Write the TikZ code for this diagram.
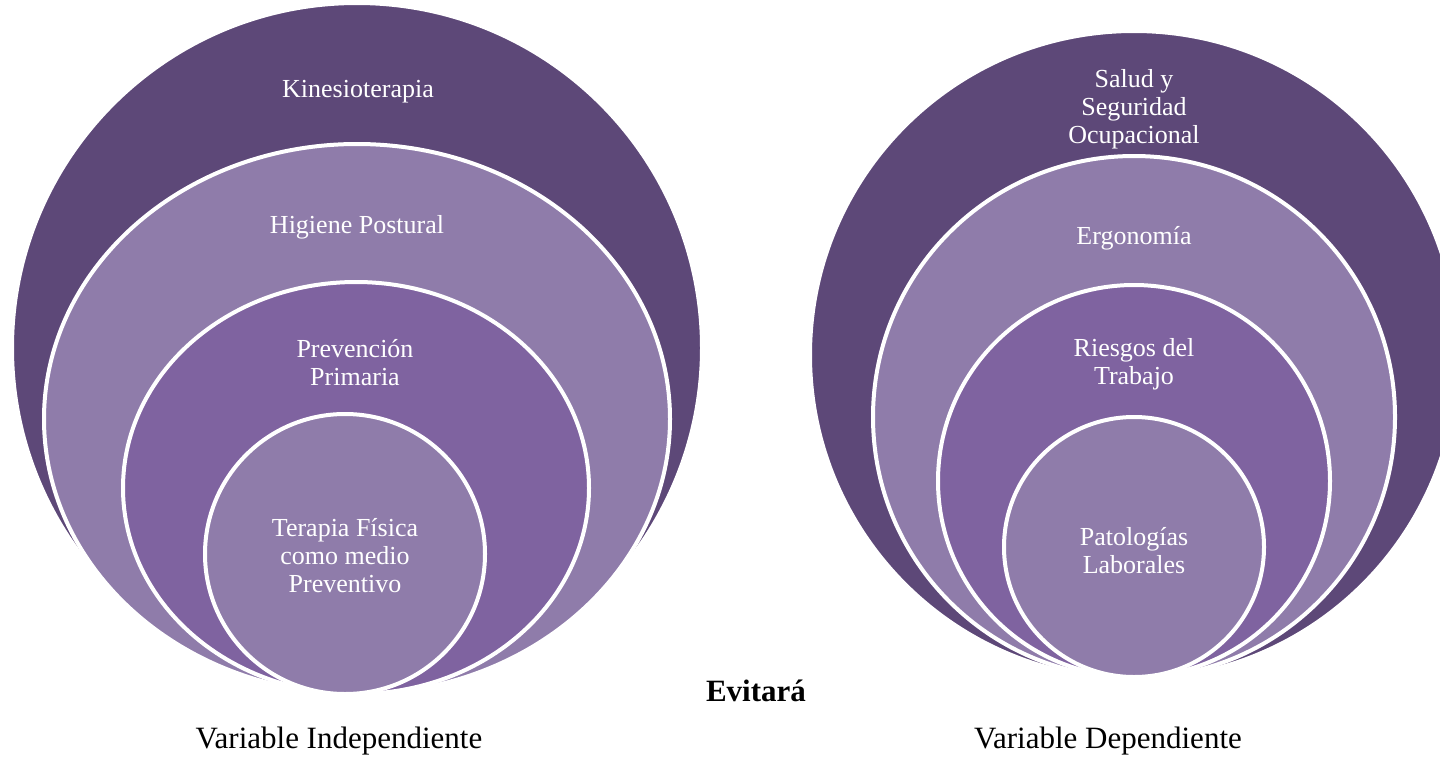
\documentclass[tikz,border=0pt]{standalone}
\usepackage{fontspec}
\setmainfont{Liberation Serif}
\usepackage{xcolor}
\usepackage{tikz}
\definecolor{darkpurple}{HTML}{5D4878}
\definecolor{lightpurple}{HTML}{8F7CAA}
\definecolor{midpurple}{HTML}{7F63A0}

\begin{document}
\begin{tikzpicture}[x=1pt,y=-1pt,
  ring/.style={draw=white,line width=4pt},
  txt/.style={text=white,align=center,inner sep=0pt,font=\fontsize{26}{28}\selectfont},
  capt/.style={inner sep=0pt,font=\fontsize{31}{34}\selectfont}]
  \useasboundingbox (0,0) rectangle (1440,760);
  \clip (0,0) rectangle (1440,760);

  %% Variable independiente
  \begin{scope}
    \filldraw[ring,fill=darkpurple]  (357,348) circle [radius=345];                  % outer
    \filldraw[ring,fill=lightpurple] (357,419) ellipse [x radius=313,y radius=275];  % 2nd
    \filldraw[ring,fill=midpurple]   (356,488) ellipse [x radius=233,y radius=206];  % 3rd
    \filldraw[ring,fill=lightpurple] (345,554) circle [radius=140];                  % inner
    % labels
    \node[txt] (kine)    at (358,92)  {Kinesioterapia};
    \node[txt] (higiene) at (357,227) {Higiene Postural};
    \node[txt] (prev)    at (355,363) {Prevención\\Primaria};
    \node[txt] (terapia) at (345,556) {Terapia Física\\como medio\\Preventivo};
  \end{scope}

  %% Variable dependiente
  \begin{scope}
    \filldraw[ring,fill=darkpurple]  (1134,355) circle [radius=324]; % outer
    \filldraw[ring,fill=lightpurple] (1134,417) circle [radius=261]; % 2nd
    \filldraw[ring,fill=midpurple]   (1134,481) circle [radius=196]; % 3rd
    \filldraw[ring,fill=lightpurple] (1134,547) circle [radius=130]; % inner
    % labels
    \node[txt] (salud)   at (1134,109) {Salud y\\Seguridad\\Ocupacional};
    \node[txt] (ergo)    at (1134,238) {Ergonomía};
    \node[txt] (riesgos) at (1134,364) {Riesgos del\\Trabajo};
    \node[txt] (patol)   at (1134,551) {Patologías\\Laborales};
  \end{scope}

  % captions
  \node[capt,font=\fontsize{31}{34}\selectfont\bfseries] (evita) at (756,691) {Evitará};
  \node[capt] (varind) at (339,741) {Variable Independiente};
  \node[capt] (vardep) at (1108,741) {Variable Dependiente};

\end{tikzpicture}
\end{document}
